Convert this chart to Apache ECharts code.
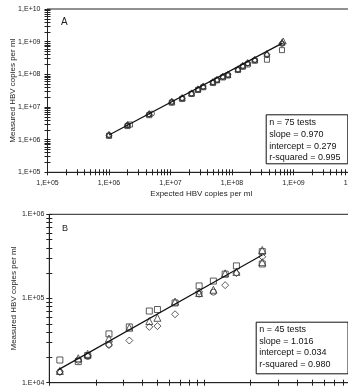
<!DOCTYPE html>
<html>
<head>
<meta charset="utf-8">
<script src="https://cdn.jsdelivr.net/npm/echarts@6/dist/echarts.min.js"></script>
<style>
html, body { margin: 0; padding: 0; background: #fff; }
#chart { width: 348px; height: 390px; }
</style>
</head>
<body>
<div id="chart"></div>
<script>
// ---- panel A data ----
const decadesA = [1e5, 1e6, 1e7, 1e8, 1e9, 1e10];
const labelsA = ['1,E+05', '1,E+06', '1,E+07', '1,E+08', '1,E+09', '1,E+10'];

const expectedA = [1.0e6, 2.0e6, 4.5e6, 1.05e7, 1.55e7, 2.2e7, 2.8e7, 3.4e7, 4.9e7,
  5.7e7, 7.1e7, 8.6e7, 1.25e8, 1.5e8, 1.8e8, 2.35e8, 3.7e8, 6.5e8];
const squaresA = [1.3e6, 2.6e6, 5.6e6, 1.35e7, 1.75e7, 2.5e7, 3.3e7, 4.0e7, 5.4e7,
  6.5e7, 8.0e7, 9.2e7, 1.35e8, 1.7e8, 2.0e8, 2.6e8, 2.8e8, 5.5e8];
const circlesA = [1.4e6, 2.8e6, 6.0e6, 1.45e7, 1.9e7, 2.6e7, 3.5e7, 4.2e7, 5.8e7,
  6.8e7, 8.5e7, 9.6e7, 1.4e8, 1.8e8, 2.2e8, 2.75e8, 3.9e8, 8.6e8];
const trianglesA = [1.45e6, 2.9e6, 6.3e6, 1.5e7, 1.95e7, 2.7e7, 3.6e7, 4.4e7, 6.0e7,
  7.1e7, 8.8e7, 1.0e8, 1.48e8, 1.9e8, 2.3e8, 2.9e8, 4.4e8, 9.6e8];
const diamondsA = [1.35e6, 2.75e6, 5.9e6, 1.4e7, 1.85e7, 2.55e7, 3.4e7, 4.1e7, 5.6e7,
  6.7e7, 8.3e7, 9.8e7, 1.38e8, 1.75e8, 2.15e8, 2.7e8, 4.0e8, 8.8e8];
const extraSquareA = [2.2e6, 2.9e6];
const extraCircleA = [5.0e6, 6.3e6];
const extraTriangleA = [6.8e8, 1.05e9];
const fitA = [[1.0e6, 1.38e6], [6.6e8, 9.0e8]];
const statsA = ['n = 75 tests', 'slope = 0.970', 'intercept = 0.279', 'r-squared = 0.995'];

// ---- panel B data ----
const decadesBx = [1e4, 1e5, 1e6];
const decadesBy = [1e4, 1e5, 1e6];
const labelsBy = ['1.E+04', '1.E+05', '1.E+06'];

const squaresB = [[1.17e4, 1.86e4], [1.54e4, 1.78e4], [1.77e4, 2.1e4], [2.43e4, 3.8e4],
  [3.29e4, 4.6e4], [4.43e4, 7.1e4], [5.0e4, 7.4e4], [6.5e4, 8.85e4], [9.3e4, 1.41e5],
  [1.15e5, 1.61e5], [1.37e5, 1.95e5], [1.62e5, 2.44e5], [2.38e5, 3.6e5], [2.38e5, 2.57e5]];
const trianglesB = [[1.17e4, 1.38e4], [1.54e4, 1.95e4], [1.77e4, 2.2e4], [2.43e4, 3.35e4],
  [3.29e4, 4.5e4], [4.43e4, 5.4e4], [5.0e4, 5.9e4], [6.5e4, 9.2e4], [9.3e4, 1.16e5],
  [1.15e5, 1.27e5], [1.37e5, 1.99e5], [1.62e5, 2.07e5], [2.38e5, 3.77e5], [2.38e5, 2.7e5]];
const diamondsB = [[1.17e4, 1.35e4], [1.77e4, 2.1e4], [2.43e4, 2.8e4], [3.29e4, 3.17e4],
  [4.43e4, 4.6e4], [5.0e4, 4.7e4], [6.5e4, 6.5e4], [9.3e4, 1.2e5], [1.37e5, 1.44e5],
  [1.62e5, 2.0e5], [2.38e5, 3.13e5]];
const circlesB = [[1.17e4, 1.34e4], [1.54e4, 1.85e4], [1.77e4, 2.05e4], [2.43e4, 2.85e4],
  [9.3e4, 1.13e5], [1.15e5, 1.19e5]];
const fitB = [[1.14e4, 1.42e4], [2.38e5, 3.29e5]];
const statsB = ['n = 45 tests', 'slope = 1.016', 'intercept = 0.034', 'r-squared = 0.980'];

const FONT = 'Liberation Sans';
const INK = '#222';
const MARK = '#333';

function logTicks(decades) {
  const out = [];
  for (let i = 0; i < decades.length - 1; i++) {
    for (let k = 1; k < 10; k++) out.push(k * decades[i]);
  }
  out.push(decades[decades.length - 1]);
  return out;
}

function labelFor(decades, labels) {
  return (v) => {
    const i = decades.findIndex(d => Math.abs(Math.log10(d) - Math.log10(v)) < 0.01);
    return i < 0 ? '' : labels[i];
  };
}

function logAxis(grid, decades, labels, position, opts) {
  const main = {
    type: 'log', logBase: 10, gridIndex: grid, position: position,
    min: decades[0], max: decades[decades.length - 1],
    axisLine: { show: true, onZero: false, lineStyle: { color: INK, width: 1 } },
    axisTick: { show: true, length: 3, customValues: logTicks(decades), lineStyle: { color: INK } },
    axisLabel: {
      show: !!labels, customValues: decades, margin: opts.margin,
      formatter: labels ? labelFor(decades, labels) : '',
      fontFamily: FONT, fontSize: 7, color: INK
    },
    splitLine: { show: false },
    name: opts.name || '', nameLocation: 'middle', nameGap: opts.nameGap,
    nameMoveOverlap: false,
    nameTextStyle: { fontFamily: FONT, fontSize: 8, color: INK }
  };
  const inner = {
    type: 'log', logBase: 10, gridIndex: grid, position: position,
    min: decades[0], max: decades[decades.length - 1],
    axisLine: { show: false, onZero: false },
    axisTick: { show: true, inside: true, length: 3, customValues: logTicks(decades), lineStyle: { color: INK } },
    axisLabel: { show: false },
    splitLine: { show: false }
  };
  return [main, inner];
}

function pairs(xs, ys) {
  return xs.map((x, i) => [x, ys[i]]);
}

const markStyle = { color: 'transparent', borderColor: MARK, borderWidth: 1 };

function scatter(data, symbol, size, ax) {
  return {
    type: 'scatter', data: data, symbol: symbol, symbolSize: size,
    xAxisIndex: ax, yAxisIndex: ax, itemStyle: markStyle, z: 3
  };
}

function fitLine(data, ax) {
  return {
    type: 'line', data: data, symbol: 'none', xAxisIndex: ax, yAxisIndex: ax,
    lineStyle: { color: '#111', width: 1.2 }, z: 4
  };
}

function statsBox(x, y, w, h, lines, lh) {
  return {
    type: 'group', left: x, top: y,
    children: [
      { type: 'rect', shape: { x: 0, y: 0, width: w, height: h },
        style: { fill: '#fff', stroke: '#111', lineWidth: 1 } },
      { type: 'text', x: 3, y: 2,
        style: { text: lines.join('\n'), font: '9px "Liberation Sans"', fill: '#111', lineHeight: lh } }
    ]
  };
}

const [axA_x, axA_x2] = logAxis(0, decadesA, labelsA, 'bottom',
  { margin: 7, name: 'Expected HBV copies per ml', nameGap: 17 });
const [axA_y, axA_y2] = logAxis(0, decadesA, labelsA, 'left',
  { margin: 7, name: 'Measured HBV copies per ml', nameGap: 31 });
const [axB_x, axB_x2] = logAxis(1, decadesBx, null, 'bottom', { margin: 7 });
const [axB_y, axB_y2] = logAxis(1, decadesBy, labelsBy, 'left',
  { margin: 5, name: 'Measured HBV copies per ml', nameGap: 32 });

const chart = echarts.init(document.getElementById('chart'));
chart.setOption({
  animation: false,
  backgroundColor: '#fff',
  grid: [
    { left: 47.5, top: 9, width: 307.5, height: 163.3, show: true, outerBoundsMode: 'none',
      containLabel: false, borderColor: INK, borderWidth: 1, backgroundColor: 'transparent' },
    { left: 49.3, top: 214.3, width: 309.4, height: 168.4, show: true, outerBoundsMode: 'none',
      containLabel: false, borderColor: INK, borderWidth: 1, backgroundColor: 'transparent' }
  ],
  xAxis: [axA_x, axA_x2, axB_x, axB_x2],
  yAxis: [axA_y, axA_y2, axB_y, axB_y2],
  series: [
    scatter(pairs(expectedA, squaresA).concat([extraSquareA]), 'rect', 5, 0),
    scatter(pairs(expectedA, circlesA).concat([extraCircleA]), 'circle', 5, 0),
    scatter(pairs(expectedA, trianglesA).concat([extraTriangleA]), 'triangle', 6, 0),
    scatter(pairs(expectedA, diamondsA), 'diamond', 6, 0),
    fitLine(fitA, 0),
    scatter(squaresB, 'rect', 6, 2),
    scatter(trianglesB, 'triangle', 7, 2),
    scatter(diamondsB, 'diamond', 7, 2),
    scatter(circlesB, 'circle', 6, 2),
    fitLine(fitB, 2)
  ],
  graphic: [
    { type: 'text', left: 61, top: 17, style: { text: 'A', font: '10px "Liberation Sans"', fill: INK } },
    { type: 'text', left: 62, top: 224, style: { text: 'B', font: '9px "Liberation Sans"', fill: INK } },
    statsBox(265.7, 114.3, 81.6, 49, statsA, 11.7),
    statsBox(255.7, 321.7, 91.8, 51.6, statsB, 11.4)
  ]
});
</script>
</body>
</html>
